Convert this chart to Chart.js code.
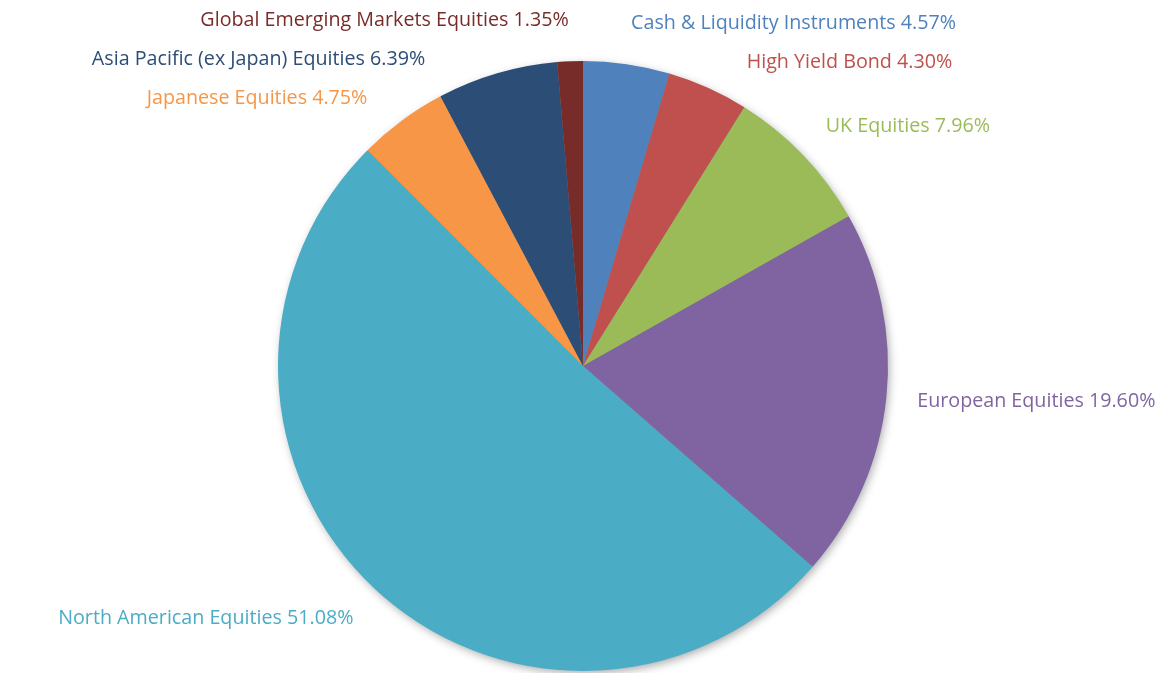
<!DOCTYPE html>
<html>
<head>
<meta charset="utf-8">
<script src="https://cdn.jsdelivr.net/npm/chart.js@4.4.1/dist/chart.umd.min.js"></script>
<style>
  html, body { margin: 0; padding: 0; background: #fff; }
  #wrap { width: 1156px; height: 673px; }
</style>
</head>
<body>
<div id="wrap"><canvas id="pieChart"></canvas></div>
<script>
var categories = [
  "Cash & Liquidity Instruments",
  "High Yield Bond",
  "UK Equities",
  "European Equities",
  "North American Equities",
  "Japanese Equities",
  "Asia Pacific (ex Japan) Equities",
  "Global Emerging Markets Equities"
];
var weights = [4.57, 4.30, 7.96, 19.60, 51.08, 4.75, 6.39, 1.35];
var colours = ["#4F81BD", "#C0504D", "#9BBB59", "#8064A2", "#4BACC6", "#F79646", "#2C4D75", "#772C2A"];

var FONT = '19.7px "Open Sans", "Noto Sans", sans-serif';
var LABEL_GAP = 31;    // distance of label corner from the pie edge
var LINE_H = 20;       // text box height used for placement
var MIN_SPACING = 39;  // min vertical distance between labels on one side

// soft drop shadow behind the whole pie
var pieShadow = {
  id: 'pieShadow',
  beforeDatasetsDraw: function(chart) {
    var arc = chart.getDatasetMeta(0).data[0];
    if (!arc) return;
    var ctx = chart.ctx;
    ctx.save();
    ctx.shadowColor = 'rgba(0,0,0,0.35)';
    ctx.shadowBlur = 10;
    ctx.shadowOffsetX = 2;
    ctx.shadowOffsetY = 3;
    ctx.fillStyle = '#888';
    ctx.beginPath();
    ctx.arc(arc.x, arc.y, arc.outerRadius - 1, 0, Math.PI * 2);
    ctx.fill();
    ctx.restore();
  }
};

// category + percentage outside each slice, nudged down when they collide
var outsideLabels = {
  id: 'outsideLabels',
  afterDatasetsDraw: function(chart) {
    var ctx = chart.ctx;
    var meta = chart.getDatasetMeta(0);
    var labels = meta.data.map(function(arc, i) {
      var mid = (arc.startAngle + arc.endAngle) / 2;
      var R = arc.outerRadius + LABEL_GAP;
      var s = Math.cos(mid);
      var c = -Math.sin(mid);
      return {
        i: i, cx: arc.x, cy: arc.y, R: R, c: c,
        right: s >= 0,
        x: arc.x + R * s,
        y: arc.y - R * c - LINE_H * c / 2,
        moved: false
      };
    });

    [true, false].forEach(function(side) {
      var group = labels.filter(function(l) { return l.right === side; })
        .sort(function(a, b) { return a.y - b.y; });
      for (var k = 1; k < group.length; k++) {
        var minY = group[k - 1].y + MIN_SPACING;
        if (group[k].y < minY) {
          var l = group[k];
          l.y = minY;
          // slide along the circle so the near corner keeps its distance
          var cornerY = l.y + (l.c > 0 ? LINE_H / 2 : -LINE_H / 2);
          var dy = cornerY - l.cy;
          var dx = Math.sqrt(Math.max(l.R * l.R - dy * dy, 0));
          l.x = l.right ? l.cx + dx : l.cx - dx;
        }
      }
    });

    ctx.save();
    ctx.font = FONT;
    ctx.textBaseline = 'middle';
    labels.forEach(function(l) {
      ctx.fillStyle = colours[l.i];
      ctx.textAlign = l.right ? 'left' : 'right';
      ctx.fillText(categories[l.i] + ' ' + weights[l.i].toFixed(2) + '%', l.x, l.y);
    });
    ctx.restore();
  }
};

new Chart(document.getElementById('pieChart'), {
  type: 'pie',
  data: {
    labels: categories,
    datasets: [{
      data: weights,
      backgroundColor: colours,
      borderWidth: 0,
      hoverOffset: 0
    }]
  },
  options: {
    responsive: true,
    maintainAspectRatio: false,
    animation: false,
    layout: { padding: { top: 61, bottom: 2, left: 10, right: 0 } },
    plugins: {
      legend: { display: false },
      tooltip: { enabled: false }
    }
  },
  plugins: [pieShadow, outsideLabels]
});
</script>
</body>
</html>
